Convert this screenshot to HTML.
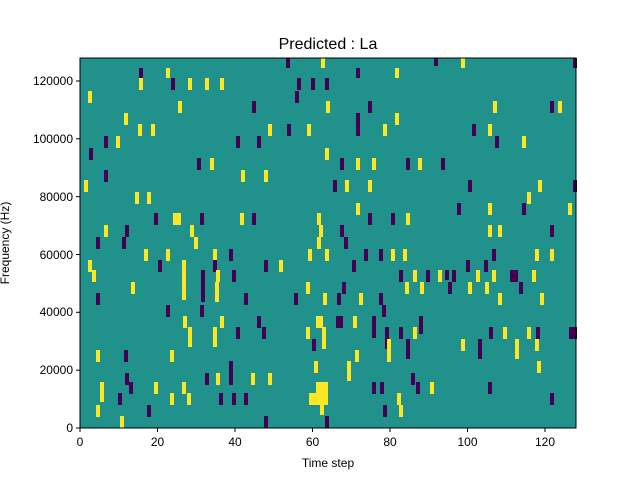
<!DOCTYPE html>
<html><head><style>
body{margin:0;background:#fff;}
svg text{font-family:"Liberation Sans","DejaVu Sans",sans-serif;fill:#000;}
.p{fill:#440154}.y{fill:#fde725}
</style></head><body>
<svg width="640" height="480" xmlns="http://www.w3.org/2000/svg">
<rect x="80" y="58" width="496" height="370" fill="#21918c"/>
<g id="cells"></g>
<rect x="80" y="58" width="496" height="370" fill="none" stroke="#000" stroke-width="1"/>
<text x="328" y="49" font-size="16" text-anchor="middle">Predicted : La</text>
<g font-size="12" text-anchor="middle">
<line x1="80" y1="428" x2="80" y2="432" stroke="#000"/><text x="80" y="446">0</text>
<line x1="157.5" y1="428" x2="157.5" y2="432" stroke="#000"/><text x="157.5" y="446">20</text>
<line x1="235" y1="428" x2="235" y2="432" stroke="#000"/><text x="235" y="446">40</text>
<line x1="312.5" y1="428" x2="312.5" y2="432" stroke="#000"/><text x="312.5" y="446">60</text>
<line x1="390" y1="428" x2="390" y2="432" stroke="#000"/><text x="390" y="446">80</text>
<line x1="467.5" y1="428" x2="467.5" y2="432" stroke="#000"/><text x="467.5" y="446">100</text>
<line x1="545" y1="428" x2="545" y2="432" stroke="#000"/><text x="545" y="446">120</text>
<text x="328" y="467">Time step</text>
</g>
<g font-size="12" text-anchor="end">
<line x1="76" y1="428" x2="80" y2="428" stroke="#000"/><text x="73" y="432">0</text>
<line x1="76" y1="370.2" x2="80" y2="370.2" stroke="#000"/><text x="73" y="374">20000</text>
<line x1="76" y1="312.3" x2="80" y2="312.3" stroke="#000"/><text x="73" y="316">40000</text>
<line x1="76" y1="254.5" x2="80" y2="254.5" stroke="#000"/><text x="73" y="259">60000</text>
<line x1="76" y1="196.7" x2="80" y2="196.7" stroke="#000"/><text x="73" y="201">80000</text>
<line x1="76" y1="138.8" x2="80" y2="138.8" stroke="#000"/><text x="73" y="143">100000</text>
<line x1="76" y1="81" x2="80" y2="81" stroke="#000"/><text x="73" y="85">120000</text>
<text transform="translate(9,243) rotate(-90)" text-anchor="middle">Frequency (Hz)</text>
</g>
</svg>
<script>
const d=`p 286 58 10;y 321 58 10;p 434 58 8;y 461 58 10;p 573 58 10;y 166 68 10;p 139 68 10;p 356 68 10;y 395 68 10;
y 139 78 12;p 171 78 12;y 188 78 12;y 205 78 12;y 220 78 12;p 297 78 12;p 311 78 12;p 325 78 12;y 88 91 12;p 295 91 12;
y 178 101 12;p 252 101 12;y 326 101 12;p 368 101 12;y 493 101 12;p 550 101 12;y 558 101 12;y 124 113 12;p 356 113 12;y 395 113 12;
y 138 124 12;y 151 124 12;y 268 124 12;p 287 124 12;y 307 124 12;p 356 124 12;y 383 124 12;p 472 124 12;y 488 124 12;
p 104 136 12;y 116 136 12;p 236 136 12;p 257 136 12;p 495 136 12;y 522 136 12;p 89 148 12;y 325 148 12;
p 197 158 12;y 210 158 12;p 340 158 12;y 356 158 12;y 372 158 12;p 406 158 12;y 418 158 12;p 441 158 12;
p 104 170 12;y 241 170 12;y 264 170 12;y 84 180 12;p 333 180 12;y 345 180 12;y 368 180 12;p 468 180 12;y 538 180 12;p 573 180 12;
y 135 192 12;y 147 192 12;y 527 192 12;y 356 203 12;p 457 203 12;y 488 203 12;p 522 203 12;y 568 203 12;
p 154 213 12;y 173 213 12 8;p 200 213 12;y 240 213 12;p 252 213 12;y 317 213 12;p 368 213 12;p 391 213 12;y 406 213 12;
y 104 225 12;p 125 225 12;y 190 225 12;y 319 225 12;p 340 225 12;y 488 225 12;y 498 225 12;p 550 225 12;
p 96 237 12;p 122 237 12;y 194 237 12;y 317 237 12;p 344 237 12;
y 144 249 12;y 166 249 12;y 213 249 12;p 229 249 12;y 308 249 12;y 325 249 12;p 364 249 12;p 379 249 12;y 391 249 12;y 403 249 12;p 492 249 12;y 535 249 12;y 550 249 12;
y 88 260 12;p 158 260 12;y 182 260 40;p 213 260 12;p 264 260 12;y 279 260 12;p 352 260 12;p 466 260 12;p 484 260 12;
y 92 270 12;p 201 270 12;y 216 270 12;p 232 270 12;p 399 270 12;y 413 270 12;p 426 270 12;y 438 270 12;p 445 270 10;p 452 270 12;y 476 270 12;y 492 270 12;p 510 270 12 8;y 532 270 12;
y 131 282 12;p 201 282 20;y 215 282 20;y 306 282 12;p 342 282 12;y 405 282 12;y 420 282 12;p 448 282 12;y 468 282 12;y 485 282 12;p 519 282 12;
p 96 293 12;p 244 293 12;p 294 293 12;y 323 293 12;p 337 293 12;y 359 293 12;p 379 293 12;y 498 293 12;y 540 293 12;
p 166 305 12;p 200 305 12;p 382 305 12;
y 183 316 12;y 220 316 12;p 257 316 12;y 316 316 12 7;p 336 316 12 7;y 353 316 12;p 372 316 22;p 419 316 18;
y 188 327 20;y 213 327 20;p 236 327 12;p 262 327 12;y 306 327 12;y 322 327 22;p 385 327 22;p 399 327 12;y 413 327 12;p 489 327 12;y 503 327 12;y 527 327 12;p 536 327 12;p 569 327 12 8;
p 312 339 12;y 387 339 12;p 406 339 20;y 461 339 12;p 478 339 20;y 515 339 20;y 535 339 12;
y 96 350 12;p 124 350 12;y 170 350 12;y 355 350 12;y 387 350 12;
p 229 361 12;y 314 361 12;y 347 361 20;y 537 361 12;
p 125 373 12;p 205 373 12;y 216 373 12;p 229 373 12;y 251 373 12;y 268 373 12;p 411 373 12;
y 100 382 20;p 129 382 12;y 154 382 12;y 182 382 12;y 316 382 22 12;p 372 382 12;p 380 382 12;p 416 382 12;y 430 382 12;p 488 382 12;
p 118 393 12;y 170 393 12;y 187 393 12;p 219 393 12;p 232 393 12;p 244 393 12;y 309 393 12 19;y 397 393 12;p 550 393 12;
y 96 405 12;p 147 405 12;y 320 405 10;p 383 405 12;y 399 405 12;
y 120 416 12;p 264 416 12;p 325 416 12`;
let s='';
d.split(';').forEach(t=>{const a=t.trim().split(/\s+/);if(a.length<4)return;
const w=a[4]?+a[4]:4;s+=`<rect class="${a[0]}" x="${a[1]}" y="${a[2]}" width="${w}" height="${a[3]}"/>`;});
document.getElementById('cells').innerHTML=s;
</script>
</body></html>
